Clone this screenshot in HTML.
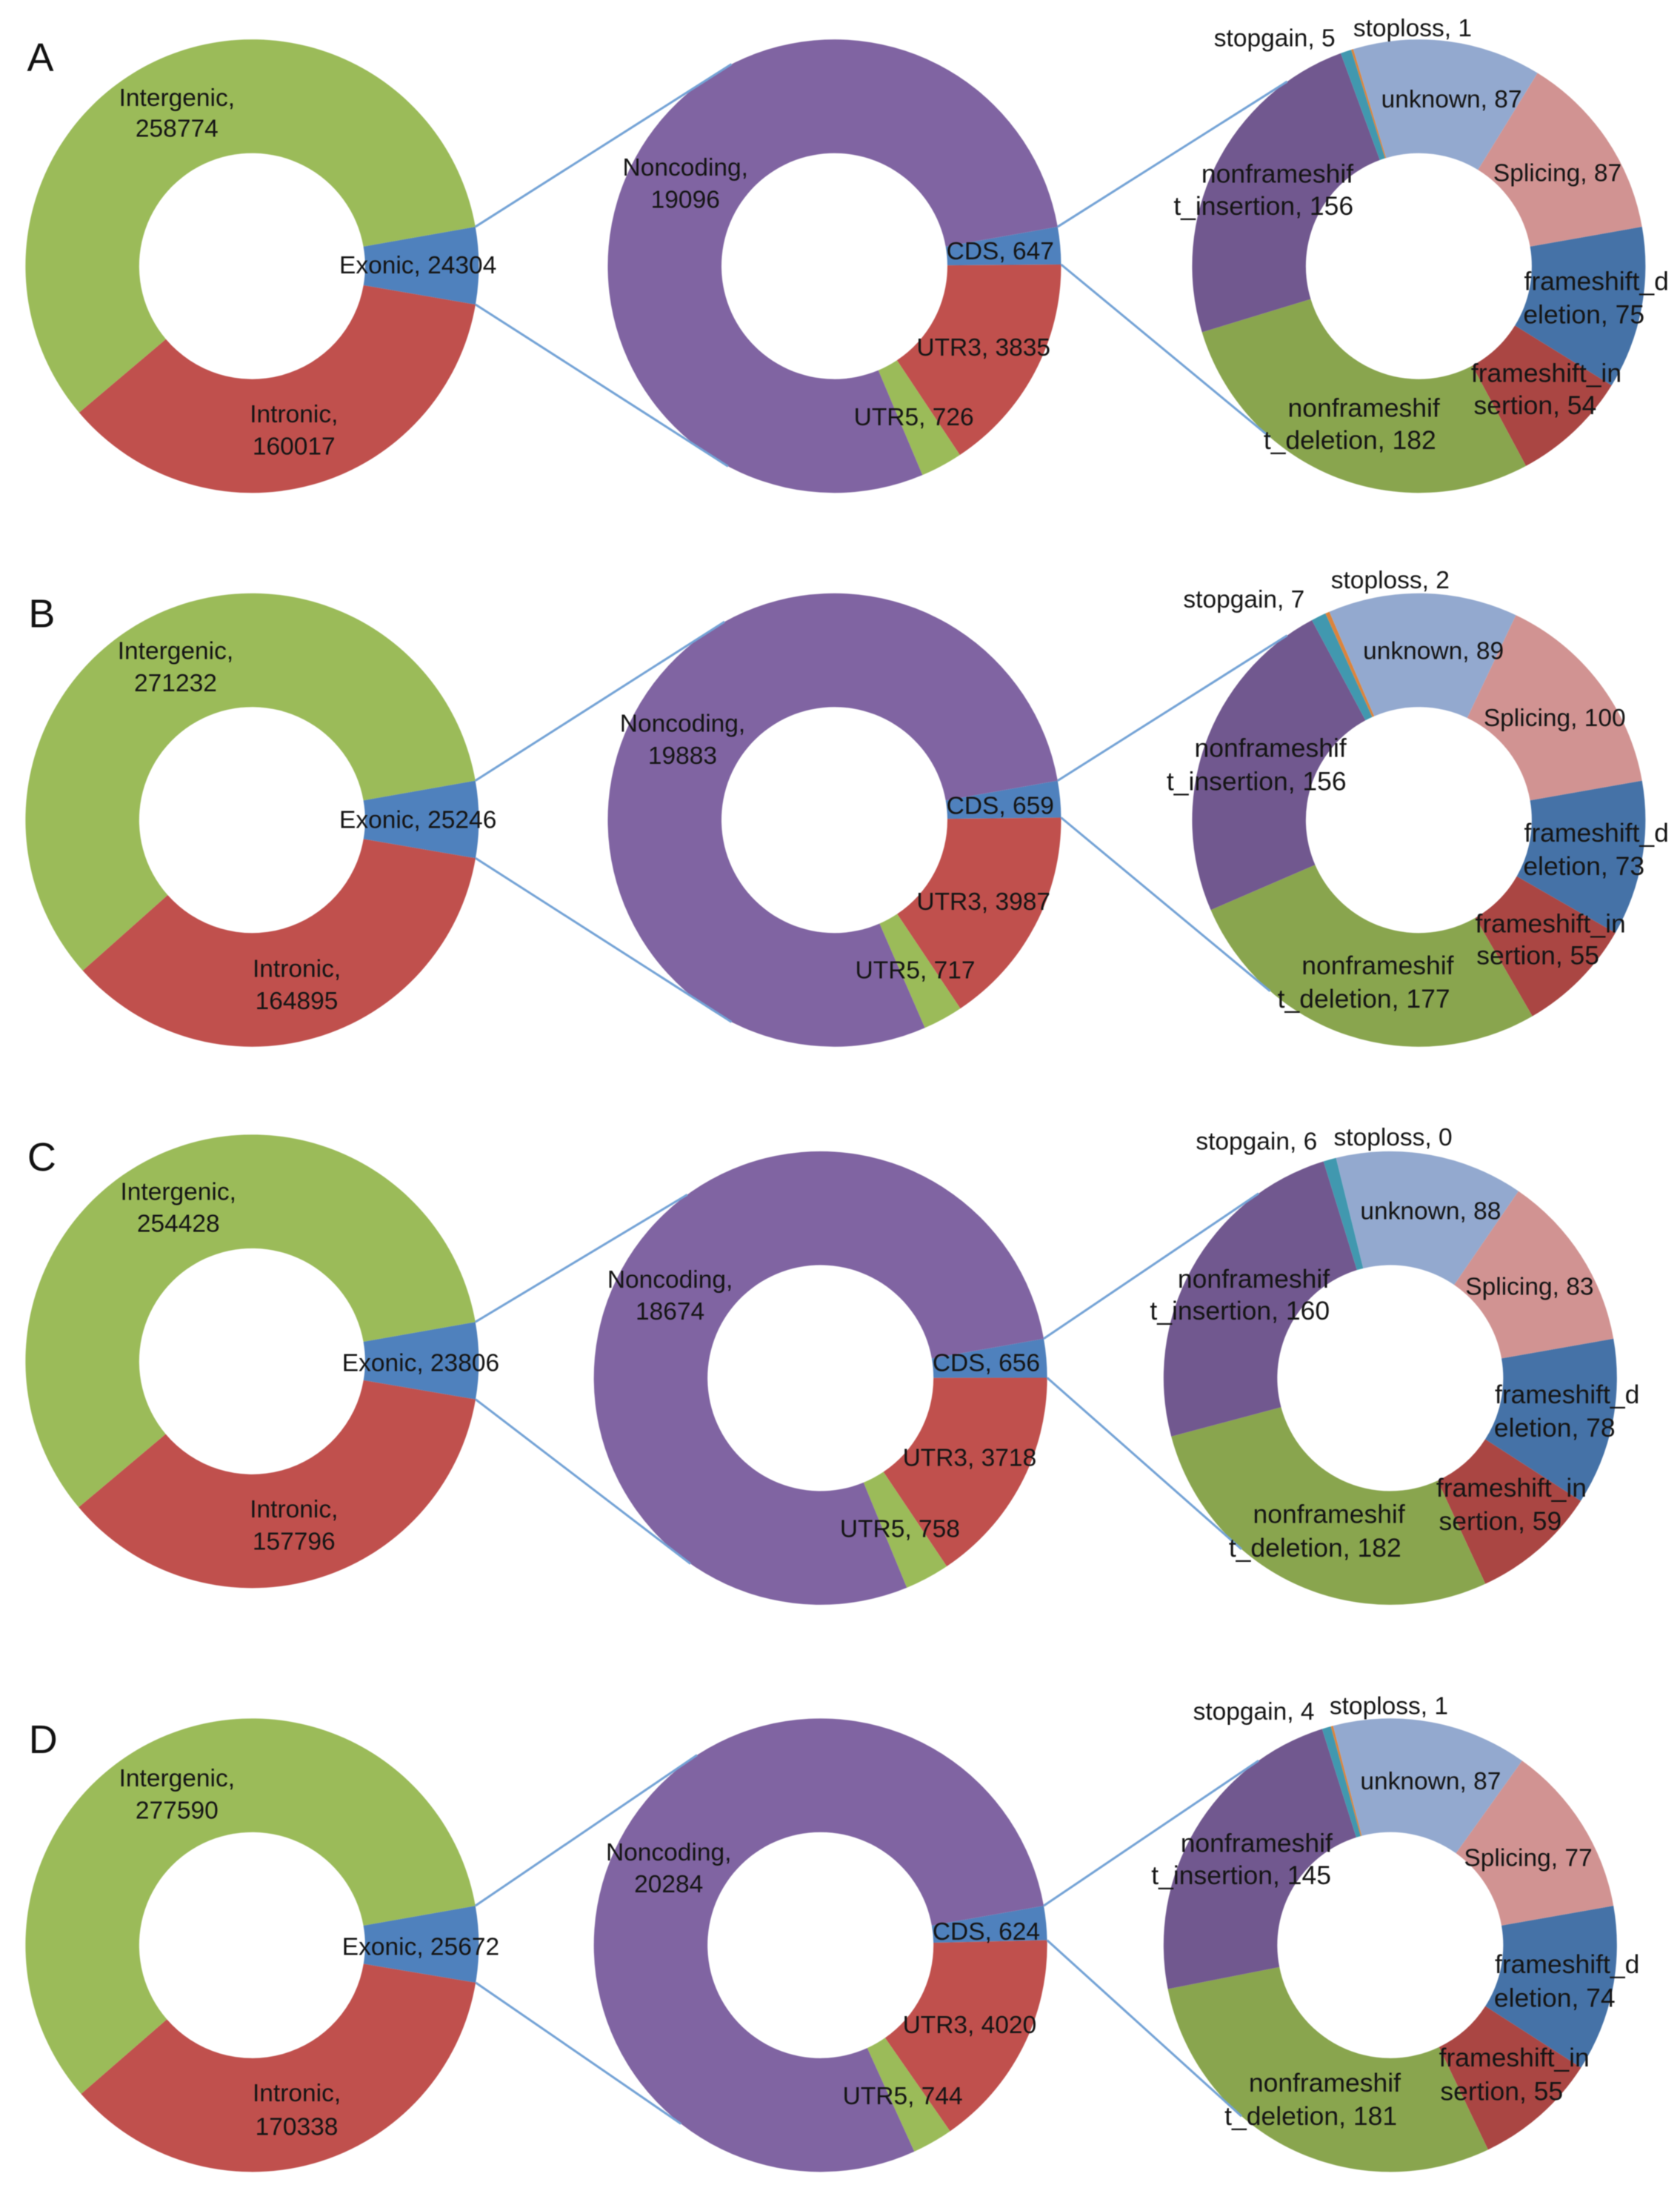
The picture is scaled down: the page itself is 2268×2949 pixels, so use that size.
<!DOCTYPE html>
<html lang="en">
<head>
<meta charset="utf-8">
<title>Variant annotation doughnut charts</title>
<style>
html,body{margin:0;padding:0;background:#fff;}
svg{display:block;filter:blur(0.6px);}
text{font-family:"Liberation Sans",sans-serif;font-size:33.5px;fill:#151515;text-anchor:middle;}
text.wrapped{font-size:35.5px;}
.panel-letter{font-size:54px;fill:#111;}
</style>
</head>
<body>
<svg id="chart" xmlns="http://www.w3.org/2000/svg" width="2268" height="2949" viewBox="0 0 2268 2949"></svg>
<script>
// ---------- data ----------
const panelLetters = ['A', 'B', 'C', 'D'];

const regionCategories = ['Exonic', 'Intronic', 'Intergenic'];
const regionValuesA = [24304, 160017, 258774];
const regionValuesB = [25246, 164895, 271232];
const regionValuesC = [23806, 157796, 254428];
const regionValuesD = [25672, 170338, 277590];

const exonicCategories = ['CDS', 'UTR3', 'UTR5', 'Noncoding'];
const exonicValuesA = [647, 3835, 726, 19096];
const exonicValuesB = [659, 3987, 717, 19883];
const exonicValuesC = [656, 3718, 758, 18674];
const exonicValuesD = [624, 4020, 744, 20284];

const cdsCategories = ['frameshift_deletion', 'frameshift_insertion', 'nonframeshift_deletion', 'nonframeshift_insertion', 'stopgain', 'stoploss', 'unknown', 'Splicing'];
const cdsValuesA = [75, 54, 182, 156, 5, 1, 87, 87];
const cdsValuesB = [73, 55, 177, 156, 7, 2, 89, 100];
const cdsValuesC = [78, 59, 182, 160, 6, 0, 88, 83];
const cdsValuesD = [74, 55, 181, 145, 4, 1, 87, 77];

const regionSeries = [regionValuesA, regionValuesB, regionValuesC, regionValuesD];
const exonicSeries = [exonicValuesA, exonicValuesB, exonicValuesC, exonicValuesD];
const cdsSeries = [cdsValuesA, cdsValuesB, cdsValuesC, cdsValuesD];

// ---------- layout and styles (not data) ----------
const S = 2268 / 1206;
const OUTER = 306;
const INNER = 152.5;
const FIRST_ANGLE = 80;
const regionColors = ['#4f81bd', '#c0504d', '#9bbb59'];
const exonicColors = ['#4f81bd', '#c0504d', '#9bbb59', '#8064a2'];
const cdsColors = ['#4572a7', '#aa4643', '#89a54e', '#71588f', '#4198af', '#db843d', '#93a9cf', '#d19392'];
const cdsWrap = [12, 13, 12, 12, 0, 0, 0, 0];

const panelGeometry = [
  { d1: [181, 191], d2: [599, 191], d3: [1018.5, 191], a1: [333, 208], a2: [324.5, 221] },
  { d1: [181, 588.5], d2: [599, 588.5], d3: [1018.5, 588.5], a1: [331, 207], a2: [324.5, 221] },
  { d1: [181, 977], d2: [589, 989], d3: [998, 989], a1: [324, 215], a2: [324.5, 221] },
  { d1: [181, 1396], d2: [589, 1396], d3: [998, 1396], a1: [327, 218], a2: [324.5, 221] }
];

// manual label placements: centre of each text line, in 1206-wide layout units
const regionLabelPlacement = [
  [[[300, 190]], [[211, 297], [211, 320]], [[127, 70], [127, 92]]],
  [[[300, 588]], [[213, 695], [213, 718]], [[126, 467], [126, 490]]],
  [[[302, 978]], [[211, 1083], [211, 1106]], [[128, 855], [128, 878]]],
  [[[302, 1397]], [[213, 1502], [213, 1526]], [[127, 1276], [127, 1299]]]
];
const exonicLabelPlacement = [
  [[[718, 180]], [[706, 249]], [[656, 299]], [[492, 120], [492, 143]]],
  [[[718, 578]], [[706, 647]], [[657, 696]], [[490, 519], [490, 542]]],
  [[[708, 978]], [[696, 1046]], [[646, 1097]], [[481, 918], [481, 941]]],
  [[[708, 1386]], [[696, 1453]], [[648, 1504]], [[480, 1329], [480, 1352]]]
];
const cdsLabelPlacement = [
  [[[1146, 202], [1137, 226]], [[1110, 268], [1102, 291]], [[979, 293], [969, 316]], [[917, 125], [907, 148]], [[915, 27]], [[1014, 20]], [[1042, 71]], [[1118, 124]]],
  [[[1146, 598], [1137, 622]], [[1113, 663], [1104, 686]], [[989, 693], [979, 717]], [[912, 537], [902, 561]], [[893, 430]], [[998, 416]], [[1029, 467]], [[1116, 515]]],
  [[[1125, 1001], [1116, 1025]], [[1085, 1068], [1077, 1092]], [[954, 1087], [944, 1111]], [[900, 918], [890, 941]], [[902, 819]], [[1000, 816]], [[1027, 869]], [[1098, 923]]],
  [[[1125, 1410], [1116, 1434]], [[1087, 1477], [1078, 1501]], [[951, 1495], [941, 1519]], [[902, 1323], [891, 1346]], [[900, 1228]], [[997, 1224]], [[1027, 1278]], [[1097, 1333]]]
];
const letterPlacement = [[29, 41], [30, 440], [30, 830], [31, 1248]];

// ---------- scales and helpers ----------
const NS = 'http://www.w3.org/2000/svg';
const svg = document.getElementById('chart');

function sx(v) { return v * S; }
function sy(v) { return v * S; }

function polar(cx, cy, radius, deg) {
  const t = deg * Math.PI / 180;
  return [cx + radius * Math.sin(t), cy - radius * Math.cos(t)];
}

function sliceAngles(values) {
  const total = values.reduce(function (a, b) { return a + b; }, 0);
  const out = [];
  let cursor = FIRST_ANGLE;
  values.forEach(function (v) {
    const sweep = v / total * 360;
    out.push([cursor, cursor + sweep]);
    cursor += sweep;
  });
  return out;
}

function sectorPath(cx, cy, a0, a1) {
  const large = (a1 - a0) > 180 ? 1 : 0;
  const p0 = polar(cx, cy, OUTER, a0);
  const p1 = polar(cx, cy, OUTER, a1);
  const p2 = polar(cx, cy, INNER, a1);
  const p3 = polar(cx, cy, INNER, a0);
  return 'M' + p0[0] + ' ' + p0[1] +
    'A' + OUTER + ' ' + OUTER + ' 0 ' + large + ' 1 ' + p1[0] + ' ' + p1[1] +
    'L' + p2[0] + ' ' + p2[1] +
    'A' + INNER + ' ' + INNER + ' 0 ' + large + ' 0 ' + p3[0] + ' ' + p3[1] + 'Z';
}

function slug(s) { return s.toLowerCase().replace(/[^a-z0-9]+/g, '-'); }

function drawConnector(parent, from, to, name) {
  const line = document.createElementNS(NS, 'line');
  line.setAttribute('x1', from[0]);
  line.setAttribute('y1', from[1]);
  line.setAttribute('x2', to[0]);
  line.setAttribute('y2', to[1]);
  line.setAttribute('stroke', '#74a3d6');
  line.setAttribute('stroke-width', '3');
  
  
  parent.appendChild(line);
}

function drawDonut(parent, center, values, colors, categories, name) {
  const cx = sx(center[0]);
  const cy = sy(center[1]);
  const group = document.createElementNS(NS, 'g');
  
  
  const angles = sliceAngles(values);
  values.forEach(function (v, i) {
    if (v <= 0) return;
    const path = document.createElementNS(NS, 'path');
    path.setAttribute('d', sectorPath(cx, cy, angles[i][0], angles[i][1]));
    path.setAttribute('fill', colors[i]);
    
    
    group.appendChild(path);
  });
  parent.appendChild(group);
  return { cx: cx, cy: cy, angles: angles };
}

function drawLabel(parent, label, wrapAt, placement, name) {
  const lines = wrapAt > 0 ? [label.slice(0, wrapAt), label.slice(wrapAt)] : splitByPlacement(label, placement.length);
  const text = document.createElementNS(NS, 'text');
  if (wrapAt > 0) text.setAttribute('class', 'wrapped');
  
  
  lines.forEach(function (content, i) {
    const span = document.createElementNS(NS, 'tspan');
    span.setAttribute('x', sx(placement[i][0]));
    span.setAttribute('y', sy(placement[i][1]) + 11.5);
    span.textContent = content;
    text.appendChild(span);
  });
  parent.appendChild(text);
}

function splitByPlacement(label, count) {
  if (count === 1) return [label];
  const at = label.indexOf(', ');
  return [label.slice(0, at + 1), label.slice(at + 2)];
}

// ---------- draw ----------
panelLetters.forEach(function (letter, p) {
  const geo = panelGeometry[p];
  const panel = document.createElementNS(NS, 'g');
  
  
  svg.appendChild(panel);

  const d1 = drawDonut(panel, geo.d1, regionSeries[p], regionColors, regionCategories, 'region-donut-' + letter.toLowerCase());
  const d2 = drawDonut(panel, geo.d2, exonicSeries[p], exonicColors, exonicCategories, 'exonic-donut-' + letter.toLowerCase());
  const d3 = drawDonut(panel, geo.d3, cdsSeries[p], cdsColors, cdsCategories, 'cds-donut-' + letter.toLowerCase());

  const connectorLayer = document.createElementNS(NS, 'g');
  
  
  panel.appendChild(connectorLayer);

  drawConnector(connectorLayer, polar(d1.cx, d1.cy, OUTER, d1.angles[0][0]), polar(d2.cx, d2.cy, OUTER, geo.a1[0]), 'connector-exonic-top');
  drawConnector(connectorLayer, polar(d1.cx, d1.cy, OUTER, d1.angles[0][1]), polar(d2.cx, d2.cy, OUTER, geo.a1[1]), 'connector-exonic-bottom');
  drawConnector(connectorLayer, polar(d2.cx, d2.cy, OUTER, d2.angles[0][0]), polar(d3.cx, d3.cy, OUTER, geo.a2[0]), 'connector-cds-top');
  drawConnector(connectorLayer, polar(d2.cx, d2.cy, OUTER, d2.angles[0][1]), polar(d3.cx, d3.cy, OUTER, geo.a2[1]), 'connector-cds-bottom');

  const heading = document.createElementNS(NS, 'text');
  heading.setAttribute('class', 'panel-letter');
  heading.setAttribute('x', sx(letterPlacement[p][0]));
  heading.setAttribute('y', sy(letterPlacement[p][1]) + 19);
  heading.textContent = letter;
  
  
  panel.appendChild(heading);

  regionCategories.forEach(function (c, i) {
    drawLabel(panel, c + ', ' + regionSeries[p][i], 0, regionLabelPlacement[p][i], 'label-' + slug(c));
  });
  exonicCategories.forEach(function (c, i) {
    drawLabel(panel, c + ', ' + exonicSeries[p][i], 0, exonicLabelPlacement[p][i], 'label-' + slug(c));
  });
  cdsCategories.forEach(function (c, i) {
    drawLabel(panel, c + ', ' + cdsSeries[p][i], cdsWrap[i], cdsLabelPlacement[p][i], 'label-' + slug(c));
  });
});
</script>
</body>
</html>
